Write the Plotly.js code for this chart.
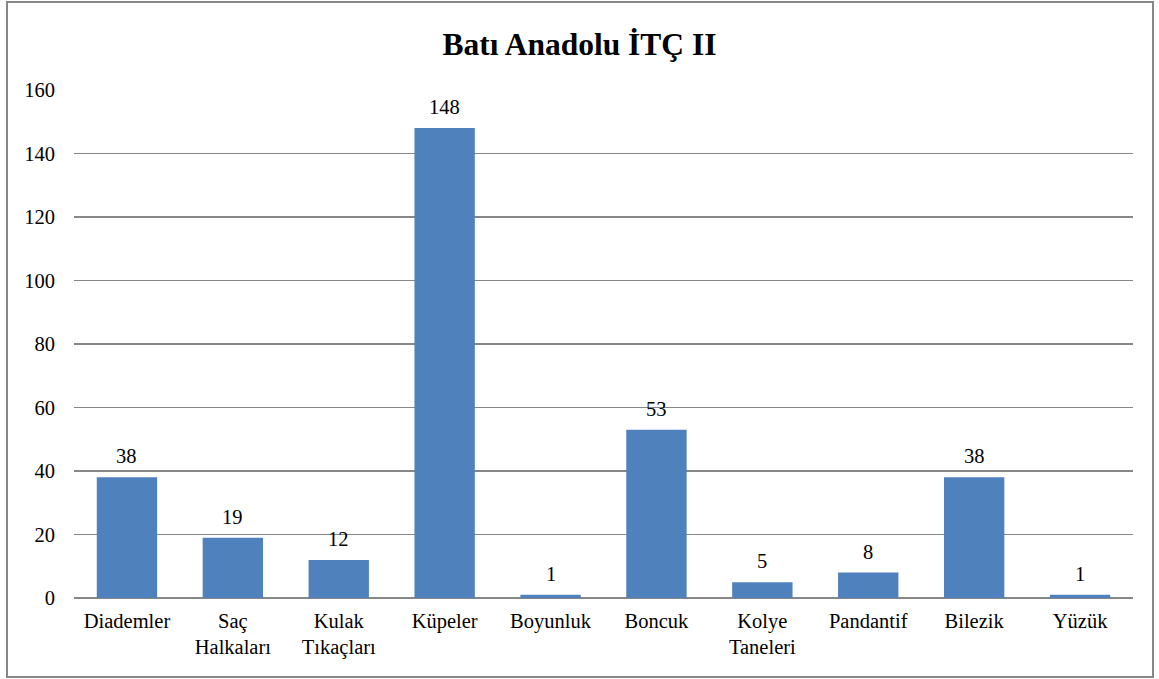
<!DOCTYPE html>
<html><head><meta charset="utf-8">
<script src="https://cdn.plot.ly/plotly-3.0.1.min.js"></script>
<style>
html,body{margin:0;padding:0;background:#fff;}
#wrap{position:relative;width:1159px;height:679px;}
#chart{width:1159px;height:679px;}
#frame{position:absolute;left:6px;top:1px;width:1144px;height:673px;border:2px solid #878787;pointer-events:none;}
</style></head>
<body><div id="wrap"><div id="chart"></div><div id="frame"></div></div>
<script>
const categories = ["Diademler","Saç<br>Halkaları","Kulak<br>Tıkaçları","Küpeler","Boyunluk","Boncuk","Kolye<br>Taneleri","Pandantif","Bilezik","Yüzük"];
const values = [38,19,12,148,1,53,5,8,38,1];
const yTicks = [0,20,40,60,80,100,120,140,160];

const FAM = "Liberation Serif";
const mk = (s)=>({family:FAM, color:"#000", size:s});

const trace = {
  type:"bar", x:categories, y:values,
  marker:{color:"#4F81BD", line:{width:0}},
  hoverinfo:"none"
};
const annotations = categories.map((c,i)=>({
  x:c, y:values[i], xref:"x", yref:"y", text:String(values[i]),
  showarrow:false, yanchor:"bottom", yshift:8, font:mk(20.5)
}));
const layout = {
  width:1159, height:679,
  margin:{l:74, r:26, t:90, b:81},
  paper_bgcolor:"#fff", plot_bgcolor:"#fff",
  font:mk(20.5),
  title:{text:"<b>Batı Anadolu İTÇ II</b>", x:0.5, xref:"container", y:0.935, yref:"container", yanchor:"middle", font:mk(31.5)},
  bargap:0.43,
  showlegend:false,
  xaxis:{type:"category", showgrid:false, showline:false, ticks:"", ticklabelstandoff:8, tickfont:mk(20.5), zeroline:false},
  yaxis:{range:[0,160], tickvals:yTicks, ticktext:yTicks.map(String), showgrid:true, gridcolor:"#878787", gridwidth:1.5, zeroline:true, zerolinecolor:"#878787", zerolinewidth:1.5, showline:false, ticks:"", ticklabelstandoff:18, tickfont:mk(20.5)},
  annotations:annotations
};
Plotly.newPlot("chart",[trace],layout,{displayModeBar:false, staticPlot:true});
</script></body></html>
